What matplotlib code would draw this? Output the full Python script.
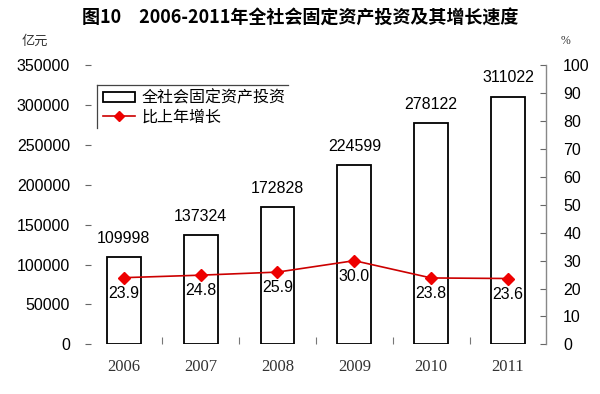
import matplotlib
matplotlib.use("Agg")
import matplotlib.pyplot as plt
from matplotlib.lines import Line2D
from matplotlib.patches import Patch

plt.rcParams['font.family'] = ['Liberation Sans', 'Noto Sans CJK SC', 'DejaVu Sans']

years = ['2006', '2007', '2008', '2009', '2010', '2011']
investment = [109998, 137324, 172828, 224599, 278122, 311022]
growth = [23.9, 24.8, 25.9, 30.0, 23.8, 23.6]
left_ticks = [0, 50000, 100000, 150000, 200000, 250000, 300000, 350000]
right_ticks = [0, 10, 20, 30, 40, 50, 60, 70, 80, 90, 100]
title = '图10　2006-2011年全社会固定资产投资及其增长速度'
bar_label = '全社会固定资产投资'
line_label = '比上年增长'

fig = plt.figure(figsize=(6, 3.94), dpi=100)
ax = fig.add_axes([0.1422, 0.1261, 0.7686, 0.7077])
x = list(range(len(years)))

ax.bar(x, investment, width=0.44, color='white', edgecolor='black', linewidth=1.3, zorder=2)
ax.set_xlim(-0.5, len(years) - 0.5)
ax.set_ylim(0, 350000)
ax.set_yticks(left_ticks)
ax.set_yticklabels([str(t) for t in left_ticks], fontsize=11.5, family='Liberation Sans')
ax.tick_params(axis='y', direction='in', length=4, pad=11, color='#666666')
ax.set_xticks([i + 0.5 for i in x[:-1]])
ax.set_xticklabels([])
ax.tick_params(axis='x', direction='in', length=5, color='#777777')
for s in ['left', 'top', 'right', 'bottom']:
    ax.spines[s].set_visible(False)

for xi, v in zip(x, investment):
    ax.annotate(str(v), (xi, v), xytext=(0, 8), textcoords='offset points',
                ha='center', va='bottom', fontsize=11.5, family='Liberation Sans')

for xi, yl in zip(x, years):
    ax.text(xi, -0.08, yl, transform=ax.get_xaxis_transform(), ha='center', va='center',
            fontsize=12, family='Liberation Serif', color='#333333')

ax2 = ax.twinx()
ax2.plot(x, growth, color='#CC0000', lw=1.2, marker='D', markersize=6,
         markerfacecolor='#EE0000', markeredgecolor='#EE0000', zorder=3)
ax2.set_ylim(0, 100)
ax2.set_yticks(right_ticks)
ax2.set_yticklabels([str(t) for t in right_ticks], fontsize=11.5, family='Liberation Sans')
ax2.tick_params(axis='y', direction='in', length=4, pad=12, color='#666666')
for s in ['left', 'top', 'bottom']:
    ax2.spines[s].set_visible(False)
ax2.spines['right'].set_color('#888888')
ax2.spines['right'].set_linewidth(1.0)

for xi, g in zip(x, growth):
    ax2.annotate(f'{g:.1f}', (xi, g), xytext=(0, -6), textcoords='offset points',
                 ha='center', va='top', fontsize=11.5, family='Liberation Sans')

handles = [Patch(facecolor='white', edgecolor='black', linewidth=1.3),
           Line2D([0], [0], color='#CC0000', lw=1.2, marker='D', markersize=5,
                  markerfacecolor='#EE0000', markeredgecolor='#EE0000')]
leg = ax2.legend(handles, [bar_label, line_label], loc='upper left',
                 bbox_to_anchor=(0.028, 0.93), frameon=False,
                 prop={'family': ['Noto Sans CJK SC'], 'size': 11.5},
                 handlelength=2.0, handleheight=0.6, handletextpad=0.4,
                 labelspacing=0.1, borderaxespad=0, borderpad=0.3)

# partial legend frame (top and left edges only)
ax2.plot([0.025, 0.439], [0.930, 0.930], transform=ax2.transAxes, color='#444444', lw=0.9, clip_on=False)
ax2.plot([0.025, 0.025], [0.930, 0.776], transform=ax2.transAxes, color='#444444', lw=0.9, clip_on=False)

fig.text(0.5, 0.955, title, ha='center', va='center', fontsize=13, fontweight='bold',
         family=['Noto Sans CJK SC', 'DejaVu Sans'])
fig.text(0.058, 0.895, '亿元', ha='center', va='center', fontsize=9.5,
         family=['Noto Sans CJK SC'], color='#333333')
fig.text(0.943, 0.895, '%', ha='center', va='center', fontsize=8.5,
         family='Liberation Serif', color='#333333')

fig.savefig('out.png', dpi=100)
